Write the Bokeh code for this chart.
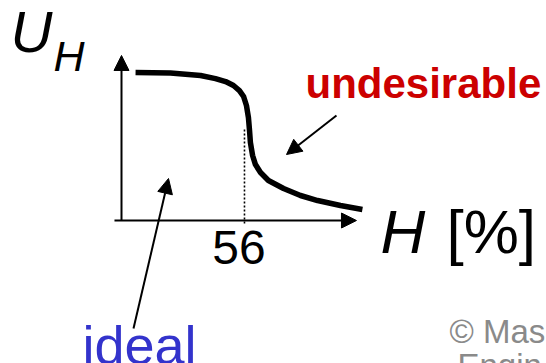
from bokeh.plotting import figure
from bokeh.models import Range1d, Arrow, NormalHead, Label
from bokeh.embed import file_html
from bokeh.resources import INLINE

# ---- data ----
# H [%] vs U_H (arbitrary units, 1 = plateau)
H_curve = [6.4, 22.3, 36.0, 42.8, 47.4, 51.0, 53.7, 55.6, 56.9, 57.8, 58.3,
           58.7, 59.7, 61.0, 63.3, 66.9, 73.8, 81.5, 89.3, 99.7, 109.7]
U_curve = [1.000, 0.997, 0.980, 0.959, 0.939, 0.912, 0.878, 0.838, 0.777, 0.696, 0.608,
           0.527, 0.439, 0.378, 0.324, 0.270, 0.216, 0.169, 0.135, 0.101, 0.074]
tick_value = 56
tick_label = "56"
x_axis_extent = [-3.2, 107.0]
y_axis_extent = [0.0, 1.115]
tick_line_extent = [-0.02, 0.615]

FONT = "Liberation Sans"

# layout helpers: page pixel -> data units
PX_PER_H = 2.196
PX_PER_U = 148.0
def X(px):
    return (px - 121) / PX_PER_H
def Y(py):
    return (220 - py) / PX_PER_U

p = figure(width=546, height=363, output_backend="svg", toolbar_location=None,
           x_axis_type=None, y_axis_type=None, min_border=0,
           x_range=Range1d(X(0), X(546)), y_range=Range1d(Y(363), Y(0)))
p.outline_line_color = None
p.background_fill_color = "white"
p.border_fill_color = "white"

head = lambda: NormalHead(size=15, fill_color="black", line_color="black")

# axes with arrow heads
p.add_layout(Arrow(end=head(), x_start=x_axis_extent[0], y_start=0,
                   x_end=x_axis_extent[1], y_end=0, line_width=2, line_color="black"))
p.add_layout(Arrow(end=head(), x_start=0, y_start=y_axis_extent[0],
                   x_end=0, y_end=y_axis_extent[1], line_width=2, line_color="black"))

# dotted marker at 56 %
p.line([tick_value, tick_value], tick_line_extent, line_color="black", line_width=1.6,
       line_dash="2 2")

# the curve
p.line(H_curve, U_curve, line_width=5.5, line_color="black", line_join="round")

# pointer arrows
p.add_layout(Arrow(end=head(), x_start=X(336), y_start=Y(115), x_end=X(286), y_end=Y(154),
                   line_width=2, line_color="black"))
p.add_layout(Arrow(end=head(), x_start=X(133), y_start=Y(328), x_end=X(168), y_end=Y(178),
                   line_width=2, line_color="black"))

def lab(px, base, text, size, color="black", style="normal", align="left"):
    # compensate the renderer's baseline offset (~0.42 em)
    p.add_layout(Label(x=X(px), y=Y(base - 0.42 * size), text=text, text_font=FONT,
                       text_font_size=f"{size}px", text_color=color,
                       text_font_style=style, text_align=align,
                       text_baseline="alphabetic"))

lab(10, 55, "U", 58, style="italic")
lab(53, 74, "H", 43, style="italic")
lab(305, 101, "undesirable", 42, color="#CC0000", style="bold")
lab(380, 257, "H", 62, style="italic")
lab(446, 257, "[%]", 62)
lab(238.5, 267, tick_label, 48, align="center")
lab(82, 367, "ideal", 54, color="#3333CC")
lab(449, 345, "© Mas", 33, color="#8a8a8a")
lab(457, 379, "Engin", 33, color="#8a8a8a")

open("out.html", "w").write(file_html(p, INLINE))
